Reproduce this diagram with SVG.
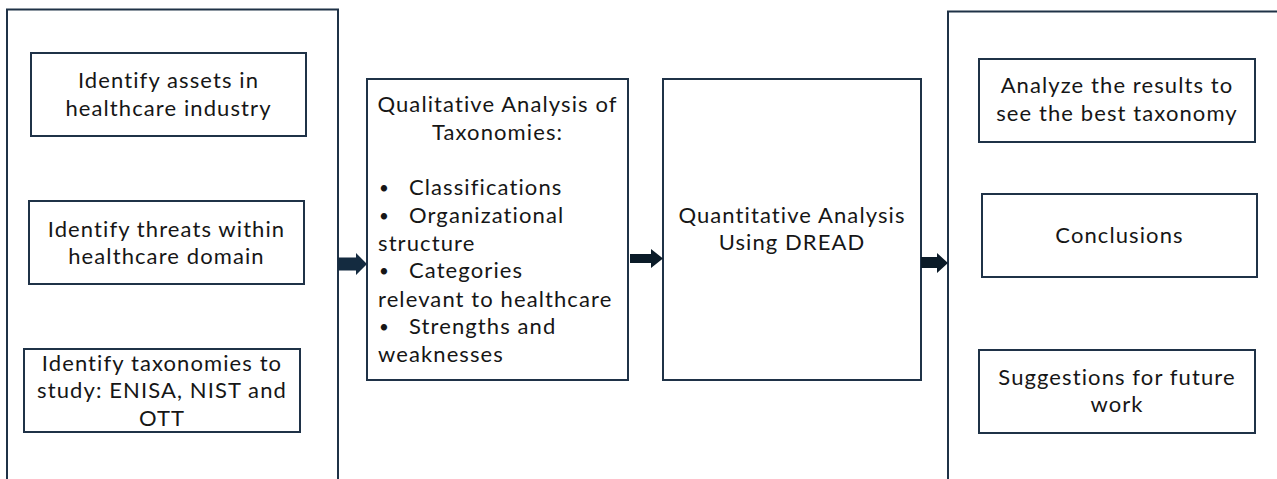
<svg xmlns="http://www.w3.org/2000/svg" width="1277" height="479" viewBox="0 0 1277 479">
  <style>
    .frame { fill: none; stroke: #1f3247; stroke-width: 2; }
    .box { fill: #ffffff; stroke: #1f3247; stroke-width: 2; }
    .lbl { font-family: Lato, "Open Sans", "Liberation Sans", sans-serif; font-size: 22px; letter-spacing: 1.1px; fill: #161616; }
    .bul { font-size: 17px; }
    .c { text-anchor: middle; }
    .arrow { fill: #142b40; }
    .arrow.dark { fill: #0b1b28; }
  </style>
  <rect width="1277" height="479" fill="#ffffff"/>

  <!-- preparation stage -->
  <g id="prep-stage">
    <path class="frame" d="M7 480 V9.5 H338 V480"/>
  </g>
  <g id="identify-assets">
    <rect class="box" x="31" y="53" width="275" height="83"/>
    <text class="lbl c" x="168.5" y="88">Identify assets in</text>
    <text class="lbl c" x="168.5" y="116">healthcare industry</text>
  </g>
  <g id="identify-threats">
    <rect class="box" x="29" y="201" width="275" height="83"/>
    <text class="lbl c" x="166.5" y="237">Identify threats within</text>
    <text class="lbl c" x="166.5" y="264">healthcare domain</text>
  </g>
  <g id="identify-taxonomies">
    <rect class="box" x="24" y="349" width="276" height="83"/>
    <text class="lbl c" x="162" y="371">Identify taxonomies to</text>
    <text class="lbl c" x="162" y="398">study: ENISA, NIST and</text>
    <text class="lbl c" x="162" y="426">OTT</text>
  </g>

  <!-- qualitative analysis -->
  <g id="qualitative">
    <rect class="box" x="367" y="79" width="261" height="301"/>
    <text class="lbl c" x="497.5" y="112">Qualitative Analysis of</text>
    <text class="lbl c" x="497.5" y="140">Taxonomies:</text>
    <text class="lbl bul" x="379" y="194">•</text>
    <text class="lbl" x="409" y="195">Classifications</text>
    <text class="lbl bul" x="379" y="222">•</text>
    <text class="lbl" x="409" y="223">Organizational</text>
    <text class="lbl" x="378" y="251">structure</text>
    <text class="lbl bul" x="379" y="277">•</text>
    <text class="lbl" x="409" y="278">Categories</text>
    <text class="lbl" x="378" y="307">relevant to healthcare</text>
    <text class="lbl bul" x="379" y="333">•</text>
    <text class="lbl" x="409" y="334">Strengths and</text>
    <text class="lbl" x="378" y="362">weaknesses</text>
  </g>

  <!-- quantitative analysis -->
  <g id="quantitative">
    <rect class="box" x="663" y="79" width="258" height="301"/>
    <text class="lbl c" x="792" y="223">Quantitative Analysis</text>
    <text class="lbl c" x="792" y="250">Using DREAD</text>
  </g>

  <!-- results stage -->
  <g id="results-stage">
    <path class="frame" d="M948 480 V11.5 H1280"/>
  </g>
  <g id="analyze-results">
    <rect class="box" x="979" y="59" width="276" height="83"/>
    <text class="lbl c" x="1117" y="93">Analyze the results to</text>
    <text class="lbl c" x="1117" y="121">see the best taxonomy</text>
  </g>
  <g id="conclusions">
    <rect class="box" x="982" y="194" width="275" height="83"/>
    <text class="lbl c" x="1119.5" y="243">Conclusions</text>
  </g>
  <g id="future-work">
    <rect class="box" x="979" y="350" width="276" height="83"/>
    <text class="lbl c" x="1117" y="385">Suggestions for future</text>
    <text class="lbl c" x="1117" y="412">work</text>
  </g>

  <!-- connectors: block arrows between stages -->
  <g id="connectors">
    <polygon class="arrow" points="338,257.5 356,257.5 356,253 367,264 356,275 356,270.5 338,270.5"/>
    <polygon class="arrow dark" points="630,254 651,254 651,249 663,258.5 651,268 651,263 630,263"/>
    <polygon class="arrow dark" points="921,257 937,257 937,253 948,263 937,273 937,268 921,268"/>
  </g>
</svg>
